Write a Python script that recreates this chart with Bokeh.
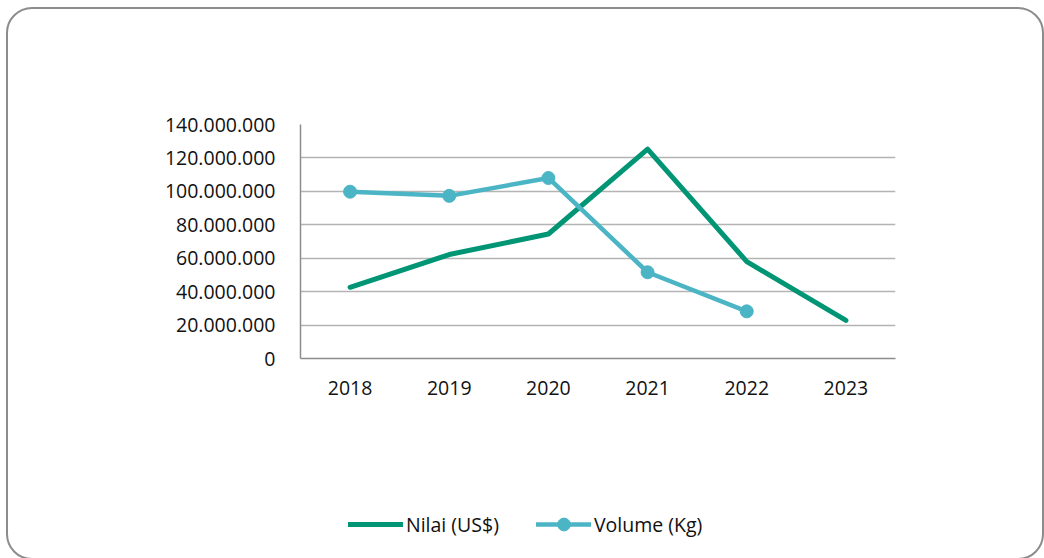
from bokeh.plotting import figure
from bokeh.layouts import column
from bokeh.models import FixedTicker, CustomJSTickFormatter, Legend, LegendItem, Range1d, FactorRange, InlineStyleSheet
from bokeh.embed import file_html
from bokeh.resources import INLINE

years = ["2018", "2019", "2020", "2021", "2022", "2023"]
nilai = [42_600_000, 62_200_000, 74_500_000, 125_300_000, 58_000_000, 22_800_000]
volume_years = ["2018", "2019", "2020", "2021", "2022"]
volume = [99_800_000, 97_300_000, 108_000_000, 51_600_000, 28_200_000]
y_ticks = [0, 20_000_000, 40_000_000, 60_000_000, 80_000_000, 100_000_000, 120_000_000, 140_000_000]
series_labels = ["Nilai (US$)", "Volume (Kg)"]

GREEN = "#009574"
TEAL = "#4bb5c6"
FONT = "Open Sans"
FS = "19.5px"

p = figure(x_range=FactorRange(*years), y_range=Range1d(0, 140_000_000),
           width=1044, height=480,
           output_backend="svg", toolbar_location=None,
           min_border_left=300, min_border_right=149, min_border_top=124, min_border_bottom=122)
p.outline_line_color = None
p.background_fill_color = "white"
p.border_fill_color = "white"

p.line(years, nilai, line_color=GREEN, line_width=5, line_cap="round", line_join="round")
p.line(volume_years, volume, line_color=TEAL, line_width=4.5, line_cap="round", line_join="round")
p.scatter(volume_years, volume, size=13, fill_color=TEAL, line_color=TEAL)

p.yaxis.ticker = FixedTicker(ticks=y_ticks)
p.yaxis.formatter = CustomJSTickFormatter(code="return Math.round(tick).toString().replace(/\\B(?=(\\d{3})+(?!\\d))/g, '.');")
for ax in (p.xaxis[0], p.yaxis[0]):
    ax.major_tick_line_color = None
    ax.minor_tick_line_color = None
    ax.axis_line_color = "#8c8c8c"
    ax.axis_line_width = 1.5
    ax.major_label_text_font = FONT
    ax.major_label_text_font_size = FS
    ax.major_label_text_color = "#111111"
p.yaxis.major_label_standoff = 19
p.xaxis.major_label_standoff = 16

p.xgrid.grid_line_color = None
p.ygrid.grid_line_color = "#b4b4b4"
p.ygrid.grid_line_width = 1.5
p.ygrid.ticker = FixedTicker(ticks=y_ticks)

# legend strip below the chart (series drawn out of view, only the legend shows)
p2 = figure(width=1044, height=78, x_range=FactorRange(*years), y_range=Range1d(-2, -1),
            output_backend="svg", toolbar_location=None,
            min_border_left=300, min_border_right=149, min_border_top=0, min_border_bottom=0)
p2.axis.visible = False
p2.grid.visible = False
p2.outline_line_color = None
p2.border_fill_color = "white"
l1 = p2.line(years, nilai, line_color=GREEN, line_width=5, line_cap="round")
l2 = p2.line(volume_years, volume, line_color=TEAL, line_width=4.5, line_cap="round")
s2 = p2.scatter(volume_years, volume, size=13, fill_color=TEAL, line_color=TEAL)

legend = Legend(items=[LegendItem(label=series_labels[0], renderers=[l1]),
                       LegendItem(label=series_labels[1], renderers=[l2, s2])],
                orientation="horizontal", location=(48, 18),
                border_line_color=None, background_fill_alpha=0,
                label_text_font=FONT, label_text_font_size=FS, label_text_color="#111111",
                glyph_width=55, glyph_height=32, label_standoff=3, spacing=37,
                padding=4, margin=0)
p2.add_layout(legend, "center")

layout = column(p, p2, spacing=0)
layout.stylesheets = [InlineStyleSheet(css="""
:host { position: relative; overflow: hidden; }
:host::after { content: ''; position: absolute; left: 6px; top: 7px; right: 0px; bottom: -2px;
  border: 2px solid #8c8c8c; border-radius: 26px; pointer-events: none; z-index: 10; }
""")]

open("out.html", "w").write(file_html(layout, INLINE))
